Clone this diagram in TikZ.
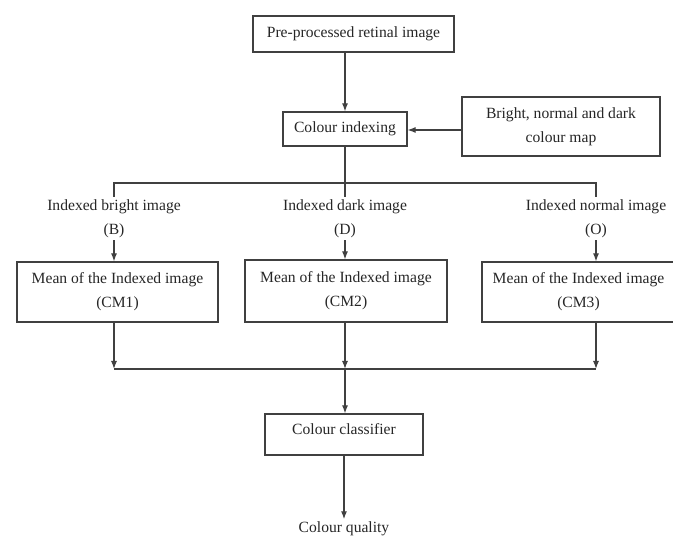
\documentclass[tikz,border=0pt]{standalone}
\usepackage{fontspec}
\setmainfont{Liberation Serif}
\usetikzlibrary{arrows.meta}
\tikzstyle{block}=[draw=black!75,line width=1.2pt,fill=white,align=center,inner sep=0pt,text=black!85]
\tikzstyle{label}=[align=center,inner sep=2pt,text=black!85]

\begin{document}
\begin{tikzpicture}[x=1pt,y=-1pt,line width=1.2pt,draw=black!75,>={Latex[length=8pt,width=6pt]},
  font=\fontsize{15.6}{24}\selectfont]
\useasboundingbox (0, 0) rectangle (673, 540);
\node[block,minimum width=201pt,minimum height=36pt] at (353.5, 34) (pre) {Pre-processed retinal image};
\node[block,minimum width=124pt,minimum height=34pt] at (345, 129) (idx) {Colour indexing};
\node[block,minimum width=198pt,minimum height=59pt] at (561, 126.5) (cmap) {Bright, normal and dark\\colour map};
\coordinate (split) at (345, 183);
\node[label] at (114, 218.5) (lb) {Indexed bright image\\(B)};
\node[label] at (345, 218.5) (ld) {Indexed dark image\\(D)};
\node[label] at (596, 218.5) (lo) {Indexed normal image\\(O)};
\node[block,minimum width=201pt,minimum height=60pt] at (117.5, 292) (cm1) {Mean of the Indexed image\\(CM1)};
\node[block,minimum width=202pt,minimum height=62pt] at (346, 291) (cm2) {Mean of the Indexed image\\(CM2)};
\node[block,minimum width=193pt,minimum height=60pt] at (578.5, 292) (cm3) {Mean of the Indexed image\\(CM3)};
\coordinate (merge) at (345, 369);
\node[block,minimum width=158pt,minimum height=41pt] at (344, 434.5) (cls) {Colour classifier\\[-14pt]\mbox{}};
\node[label] at (344, 529) (qual) {Colour quality};
\draw[->] (pre.south -| idx) -- (idx.north);
\draw[->] (cmap.west |- 0, 130) -- (idx.east |- 0, 130);
\draw (idx.south) -- (split);
\draw (lb.north) |- (split) -| (lo.north);
\draw (split) -- (ld.north);
\draw[->] (lb.south) -- (lb |- cm1.north);
\draw[->] (ld.south) -- (ld |- cm2.north);
\draw[->] (lo.south) -- (lo |- cm3.north);
\draw[->] (lb |- cm1.south) -- (lb |- merge);
\draw[->] (ld |- cm2.south) -- (merge);
\draw[->] (lo |- cm3.south) -- (lo |- merge);
\draw (lb |- merge) -- (lo |- merge);
\draw[->] (merge) -- (merge |- cls.north);
\draw[->] (cls.south) -- (qual.north);
\end{tikzpicture}
\end{document}
